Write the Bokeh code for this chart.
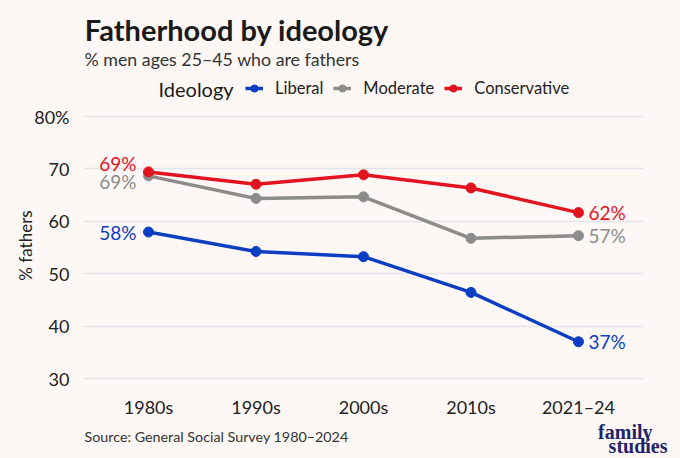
from bokeh.plotting import figure
from bokeh.models import (Range1d, FixedTicker, Label, Legend, LegendItem, Plot)
from bokeh.layouts import column
from bokeh.embed import file_html
from bokeh.resources import INLINE

# ---- data ----
periods = ["1980s", "1990s", "2000s", "2010s", "2021–24"]
liberal = [57.9, 54.2, 53.2, 46.4, 37.0]
moderate = [68.6, 64.3, 64.6, 56.7, 57.2]
conservative = [69.35, 67.0, 68.8, 66.3, 61.6]
series_names = ["Liberal", "Moderate", "Conservative"]
y_ticks = [30, 40, 50, 60, 70, 80]

BG = "#FDF8F5"
COLORS = {"Liberal": "#0B3EC2", "Moderate": "#8C8C8C", "Conservative": "#E2141F"}
FONT = "Lato"
W = 680
HEAD_H = 105          # header strip (title, subtitle, legend)
MAIN_BOTTOM = 420     # page y where the chart figure ends
FOOT_H = 458 - MAIN_BOTTOM

xs = list(range(len(periods)))
data = {"Liberal": liberal, "Moderate": moderate, "Conservative": conservative}


def blank(height):
    fig = figure(width=W, height=height, output_backend="svg",
                 toolbar_location=None, x_range=Range1d(0, W),
                 y_range=Range1d(0, height), x_axis_type=None,
                 y_axis_type=None, min_border=0)
    fig.background_fill_color = BG
    fig.border_fill_color = BG
    fig.outline_line_color = None
    fig.grid.grid_line_color = None
    return fig


def dlabel(fig, x, y, text, size, color="#222222", style="normal", font=FONT,
           align="left"):
    fig.add_layout(Label(x=x, y=y, text=text, text_font=font,
                         text_font_size=size, text_color=color,
                         text_font_style=style, text_align=align,
                         text_baseline="middle"))


# ---------------- header ----------------
h = blank(HEAD_H)
dlabel(h, 84.3, HEAD_H - 29.2, "Fatherhood by ideology", "29px",
       color="#1A1A1A", style="bold")
dlabel(h, 84, HEAD_H - 58.4, "% men ages 25–45 who are fathers", "17.8px",
       color="#333333")
dlabel(h, 158, HEAD_H - 88.3, "Ideology", "20px", color="#1A1A1A")
# legend renderers: the series themselves, mapped onto an off-frame range
h.extra_y_ranges = {"offframe": Range1d(1000, 1001)}
items = []
for name in series_names:
    c = COLORS[name]
    lr = h.line(xs, data[name], line_color=c, line_width=3.5,
                y_range_name="offframe")
    cr = h.scatter(xs, data[name], size=10, fill_color=c, line_color=c,
                   y_range_name="offframe")
    items.append(LegendItem(label=name, renderers=[lr, cr]))
legend = Legend(items=items, orientation="horizontal",
                location=(245, HEAD_H - 98.3),
                background_fill_alpha=0, border_line_alpha=0,
                label_text_font=FONT, label_text_font_size="16.5px",
                label_text_color="#222222", glyph_width=18, glyph_height=20,
                label_standoff=12, spacing=10, padding=0, margin=0)
h.add_layout(legend)

# ---------------- chart ----------------
FRAME_TOP, FRAME_BOTTOM = 105, 385
p = figure(width=W, height=MAIN_BOTTOM - HEAD_H, output_backend="svg",
           toolbar_location=None,
           x_range=Range1d(-0.605, 4.605), y_range=Range1d(28.667, 82.0),
           min_border_left=83, min_border_right=37,
           min_border_top=FRAME_TOP - HEAD_H,
           min_border_bottom=MAIN_BOTTOM - FRAME_BOTTOM)
p.background_fill_color = BG
p.border_fill_color = BG
p.outline_line_color = None

p.xaxis.ticker = FixedTicker(ticks=xs)
p.xaxis.major_label_overrides = {i: s for i, s in enumerate(periods)}
p.yaxis.ticker = FixedTicker(ticks=y_ticks)
p.yaxis.major_label_overrides = {80: "80%"}
for ax in (p.xaxis, p.yaxis):
    ax.axis_line_color = None
    ax.major_tick_line_color = None
    ax.minor_tick_line_color = None
    ax.major_label_text_font = FONT
    ax.major_label_text_font_size = "18px"
    ax.major_label_text_color = "#222222"
p.xaxis.major_label_standoff = 4
p.yaxis.major_label_standoff = 8
p.yaxis.axis_label = "% fathers"
p.yaxis.axis_label_text_font = FONT
p.yaxis.axis_label_text_font_size = "17px"
p.yaxis.axis_label_text_font_style = "normal"
p.yaxis.axis_label_text_color = "#222222"
p.yaxis.axis_label_standoff = -5

p.xgrid.grid_line_color = None
p.ygrid.grid_line_color = "#E3E3EC"
p.ygrid.grid_line_width = 1.5

for name in series_names:
    c = COLORS[name]
    p.line(xs, data[name], line_color=c, line_width=3.5)
    p.scatter(xs, data[name], size=10, fill_color=c, line_color=c)

left_offsets = {"Liberal": 0, "Moderate": -6, "Conservative": 8}
for name in series_names:
    v0 = data[name][0]
    v1 = data[name][-1]
    p.add_layout(Label(x=xs[0], y=v0, text=f"{round(v0)}%", x_offset=-12,
                       y_offset=left_offsets[name], text_align="right",
                       text_baseline="middle", text_font=FONT,
                       text_font_size="19px", text_color=COLORS[name]))
    p.add_layout(Label(x=xs[-1], y=v1, text=f"{round(v1)}%", x_offset=10,
                       y_offset=0, text_align="left", text_baseline="middle",
                       text_font=FONT, text_font_size="19px",
                       text_color=COLORS[name]))

# ---------------- footer ----------------
f = blank(FOOT_H)
dlabel(f, 84, 458 - 435.5, "Source: General Social Survey 1980–2024", "14.3px",
       color="#333333")
dlabel(f, 652, 458 - 431, "family", "20px", color="#23226B", style="bold",
       font="Liberation Serif", align="right")
dlabel(f, 667, 458 - 445.5, "studies", "20px", color="#23226B", style="bold",
       font="Liberation Serif", align="right")

if "frame_align" in Plot.properties():
    for fig in (h, p, f):
        fig.frame_align = False

layout = column(h, p, f, spacing=0)
html = file_html(layout, INLINE)
html = html.replace("<head>", "<head><style>body{background:%s;}</style>" % BG, 1)
open("out.html", "w").write(html)
